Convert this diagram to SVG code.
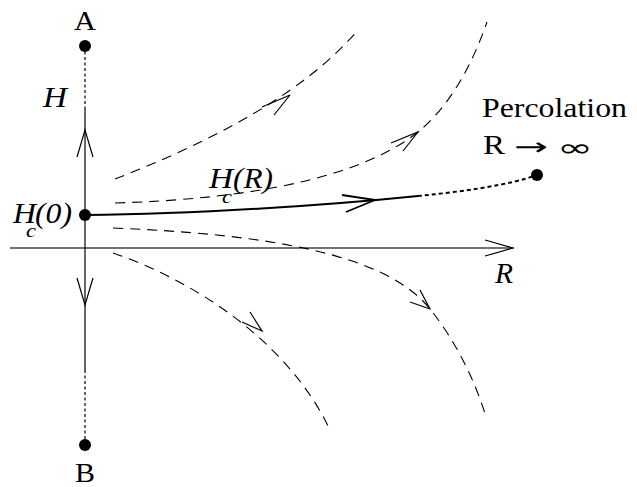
<svg xmlns="http://www.w3.org/2000/svg" width="637" height="487" viewBox="0 0 637 487">
<style>
.bg{fill:#fff}
.ln{fill:none;stroke:#000;stroke-width:1.2}
.axis{fill:none;stroke:#444;stroke-width:1.6}
.dash{fill:none;stroke:#000;stroke-width:1.1;stroke-dasharray:10 7}
.dot{fill:none;stroke:#000;stroke-width:1.2;stroke-dasharray:3 2.5}
.dotb{fill:none;stroke:#000;stroke-width:2;stroke-dasharray:4 3}
.main{fill:none;stroke:#000;stroke-width:2}
.ah{fill:none;stroke:#000;stroke-width:1.2;stroke-linejoin:miter}
.ahb{fill:none;stroke:#000;stroke-width:1.8}
.pt{fill:#000}
.rm{font-family:"Liberation Serif","Times New Roman",serif;font-size:27px;fill:#000}
.it{font-family:"Liberation Serif","Times New Roman",serif;font-style:italic;font-size:30px;fill:#000}
.sub{font-family:"Liberation Serif","Times New Roman",serif;font-style:italic;font-size:19px;fill:#000}
.sym{font-family:"DejaVu Sans","Liberation Serif",sans-serif;font-size:24px;fill:#000}
</style>
<rect class="bg" x="0" y="0" width="637" height="487"/>
<g id="connectors">
  <line class="axis" x1="10" y1="248" x2="513" y2="248"/>
  <polyline class="ah" points="485,240 513,248 485,256"/>
  <line class="dot" x1="85" y1="46" x2="85" y2="107"/>
  <line class="ln" x1="85" y1="107" x2="85" y2="370"/>
  <line class="dot" x1="85" y1="370" x2="85" y2="445"/>
  <polyline class="ah" points="77,157 85,130 93,157"/>
  <polyline class="ah" points="77,278 85,305 93,278"/>
  <path class="dash" d="M115,179 C200,146 300,98 358,30"/>
  <polyline class="ah" points="262,107 290,95 274,115"/>
  <path class="dash" d="M115,203 C250,199 360,178 418,132 C450,106 472,65 487,22"/>
  <polyline class="ah" points="391,143 418,132 403,151"/>
  <path class="dash" d="M113,228 C260,234 385,252 430,309 C455,340 475,380 486,417"/>
  <polyline class="ah" points="410,302 430,309 420,290"/>
  <path class="dash" d="M113,253 C200,283 290,345 330,430"/>
  <polyline class="ah" points="242,322 262,331 250,312"/>
  <path class="main" d="M85,215 C200,214 330,205 418,196"/>
  <polyline class="ahb" points="342,195 375,200 346,212"/>
  <path class="dotb" d="M418,196 C460,192 510,185 537,175"/>
</g>
<g id="nodeA">
  <circle class="pt" cx="85" cy="46" r="6"/>
  <text class="rm" x="85" y="30" text-anchor="middle" textLength="22" lengthAdjust="spacingAndGlyphs">A</text>
</g>
<g id="nodeB">
  <circle class="pt" cx="85" cy="445" r="6"/>
  <text class="rm" x="85" y="482" text-anchor="middle" textLength="20" lengthAdjust="spacingAndGlyphs">B</text>
</g>
<g id="nodeHc0">
  <circle class="pt" cx="85" cy="215" r="6"/>
  <text class="it" x="13" y="223" textLength="23" lengthAdjust="spacingAndGlyphs">H</text>
  <text class="it" x="35" y="223" textLength="37" lengthAdjust="spacingAndGlyphs">(0)</text>
  <text class="sub" x="26" y="237" textLength="10" lengthAdjust="spacingAndGlyphs">c</text>
</g>
<g id="nodePerc">
  <circle class="pt" cx="537" cy="175" r="6"/>
  <text class="rm" x="482" y="117" textLength="145" lengthAdjust="spacingAndGlyphs">Percolation</text>
  <text class="rm" x="483" y="154" textLength="22" lengthAdjust="spacingAndGlyphs">R</text>
  <text class="sym" x="514" y="155" textLength="34" lengthAdjust="spacingAndGlyphs">→</text>
  <text class="sym" x="557" y="156" textLength="36" lengthAdjust="spacingAndGlyphs">∞</text>
</g>
<g id="labels">
  <text class="it" x="43" y="107" textLength="24" lengthAdjust="spacingAndGlyphs">H</text>
  <text class="it" x="209" y="188" textLength="24" lengthAdjust="spacingAndGlyphs">H</text>
  <text class="it" x="233" y="188" textLength="40" lengthAdjust="spacingAndGlyphs">(R)</text>
  <text class="sub" x="222" y="203" textLength="10" lengthAdjust="spacingAndGlyphs">c</text>
  <text class="it" x="495" y="283" textLength="18" lengthAdjust="spacingAndGlyphs">R</text>
</g>
</svg>
